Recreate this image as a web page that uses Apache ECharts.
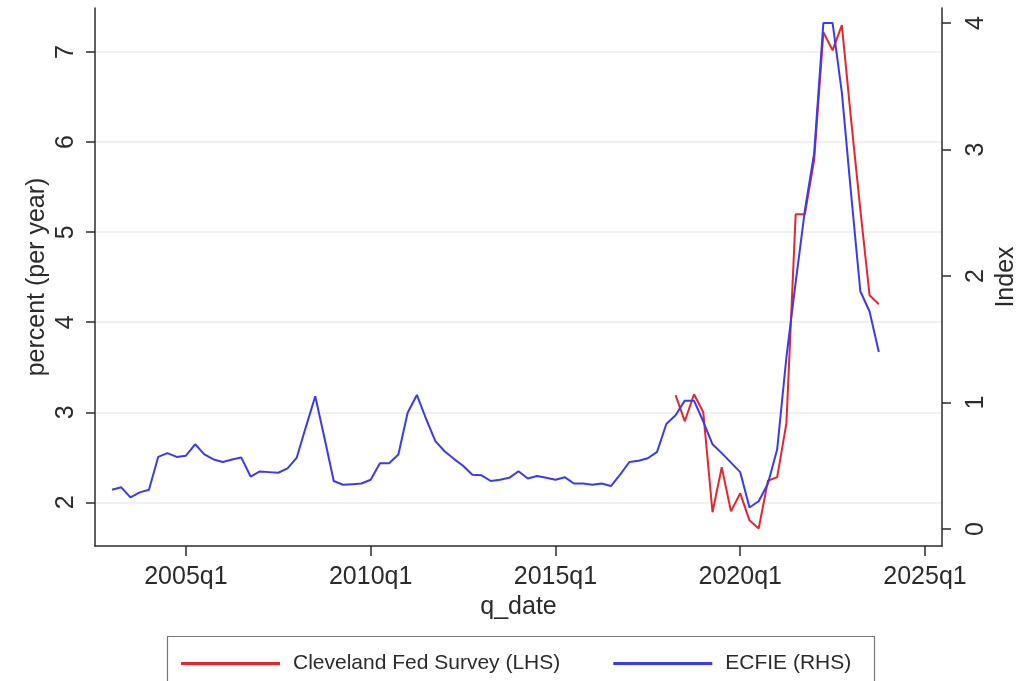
<!DOCTYPE html>
<html>
<head>
<meta charset="utf-8">
<title>Inflation expectations</title>
<script src="https://cdn.jsdelivr.net/npm/echarts@6/dist/echarts.min.js"></script>
<style>
  html, body { margin: 0; padding: 0; background: #ffffff; }
  #chart { width: 1020px; height: 681px; }
</style>
</head>
<body>
<div id="chart"></div>
<script>
// Quarterly sample, 2003q1 through 2023q4
const firstYear = 2003;
const lastYear = 2023;

// ECFIE index (right-hand scale), one value per quarter from 2003q1
const ecfie = [
  0.31, 0.33, 0.25, 0.29,
  0.31, 0.57, 0.60, 0.57,
  0.58, 0.67, 0.59, 0.55,
  0.53, 0.55, 0.565, 0.415,
  0.455, 0.45, 0.445, 0.48,
  0.565, 0.81, 1.05, 0.72,
  0.38, 0.35, 0.355, 0.36,
  0.39, 0.52, 0.52, 0.59,
  0.92, 1.06, 0.87, 0.695,
  0.615, 0.555, 0.50, 0.43,
  0.425, 0.38, 0.39, 0.405,
  0.457, 0.40, 0.42, 0.405,
  0.39, 0.41, 0.36, 0.36,
  0.35, 0.36, 0.34, 0.43,
  0.53, 0.54, 0.56, 0.61,
  0.83, 0.90, 1.015, 1.015,
  0.85, 0.67, 0.60, 0.525,
  0.45, 0.17, 0.22, 0.36,
  0.63, 1.36, 1.95, 2.52,
  2.97, 4.00, 4.00, 3.45,
  2.65, 1.88, 1.72, 1.40
];

// Cleveland Fed survey (percent per year, left-hand scale), from 2018q2
const clevelandStart = '2018q2';
const cleveland = [
  3.19, 2.90, 3.20,
  3.00, 1.89, 2.39, 1.90,
  2.10, 1.80, 1.71, 2.24,
  2.28, 2.88, 5.20, 5.20,
  5.80, 7.22, 7.02, 7.30,
  6.25, 5.25, 4.30, 4.20
];

// Axis ticks
const xTickLabels = ['2005q1', '2010q1', '2015q1', '2020q1', '2025q1'];
const leftTicks = [2, 3, 4, 5, 6, 7];
const rightTicks = [0, 1, 2, 3, 4];

const seriesNames = ['Cleveland Fed Survey (LHS)', 'ECFIE (RHS)'];

// Quarter labels ("2003q1", ...) and their position on a continuous time scale
const quarters = [];
for (let y = firstYear; y <= lastYear; y++) {
  for (let q = 1; q <= 4; q++) quarters.push(y + 'q' + q);
}
function qNum(label) {
  const [y, q] = label.split('q').map(Number);
  return y + (q - 1) / 4;
}
function qLabel(v) {
  const y = Math.floor(v + 1e-6);
  const q = Math.round((v - y) * 4) + 1;
  return y + 'q' + q;
}

const ecfieData = ecfie.map((v, i) => [qNum(quarters[i]), v]);
const cfStart = quarters.indexOf(clevelandStart);
const clevelandData = cleveland.map((v, i) => [qNum(quarters[cfStart + i]), v]);

const FONT = 'Liberation Sans, Arial, sans-serif';
const INK = '#2b2b2b';
const RED = '#e5262d';
const BLUE = '#3a3aef';

const chart = echarts.init(document.getElementById('chart'), null, { renderer: 'canvas' });

chart.setOption({
  animation: false,
  backgroundColor: '#ffffff',
  grid: { left: 95, right: 78, top: 8, bottom: 135, containLabel: false, outerBoundsMode: 'none' },
  xAxis: {
    type: 'value',
    min: 2002.54,
    max: 2025.46,
    name: 'q_date',
    nameLocation: 'middle',
    nameGap: 48,
    nameTextStyle: { fontFamily: FONT, fontSize: 25, color: INK },
    axisLine: { show: true, onZero: false, lineStyle: { color: INK, width: 1.5 } },
    axisTick: { show: true, length: 10, lineStyle: { color: INK, width: 1.5 },
      customValues: xTickLabels.map(qNum) },
    axisLabel: { show: true, margin: 19, fontFamily: FONT, fontSize: 25, color: INK,
      customValues: xTickLabels.map(qNum), formatter: v => qLabel(v) },
    splitLine: { show: false }
  },
  yAxis: [
    {
      type: 'value',
      position: 'left',
      min: 1.515,
      max: 7.49,
      name: 'percent (per year)',
      nameLocation: 'middle',
      nameGap: 45,
      nameRotate: 90,
      nameMoveOverlap: false,
      nameTextStyle: { fontFamily: FONT, fontSize: 25, color: INK },
      axisLine: { show: true, onZero: false, lineStyle: { color: INK, width: 1.5 } },
      axisTick: { show: true, length: 9, lineStyle: { color: INK, width: 1.5 },
        customValues: leftTicks },
      axisLabel: { show: true, rotate: 90, margin: 16, fontFamily: FONT, fontSize: 25, color: INK,
        customValues: leftTicks },
      splitLine: { show: true, lineStyle: { color: '#ececec', width: 1.5 } }
    },
    {
      type: 'value',
      position: 'right',
      min: -0.134,
      max: 4.119,
      name: 'Index',
      nameLocation: 'middle',
      nameGap: 52,
      nameRotate: 90,
      nameMoveOverlap: false,
      nameTextStyle: { fontFamily: FONT, fontSize: 25, color: INK },
      axisLine: { show: true, onZero: false, lineStyle: { color: INK, width: 1.5 } },
      axisTick: { show: true, length: 9, lineStyle: { color: INK, width: 1.5 },
        customValues: rightTicks },
      axisLabel: { show: true, rotate: 90, margin: 22, fontFamily: FONT, fontSize: 25, color: INK,
        customValues: rightTicks },
      splitLine: { show: false }
    }
  ],
  legend: {
    data: seriesNames,
    left: 176,
    top: 648,
    icon: 'rect',
    itemWidth: 99,
    itemHeight: 3,
    itemGap: 53,
    textStyle: { fontFamily: FONT, fontSize: 21, color: INK, padding: [0, 0, 0, 8] }
  },
  graphic: [
    {
      type: 'rect',
      left: 165,
      top: 634,
      shape: { width: 707, height: 70 },
      style: { fill: 'none', stroke: '#777777', lineWidth: 1.2 },
      silent: true,
      z: -1
    }
  ],
  series: [
    {
      name: seriesNames[0],
      type: 'line',
      yAxisIndex: 0,
      data: clevelandData,
      showSymbol: false,
      lineStyle: { color: RED, width: 2 },
      itemStyle: { color: RED }
    },
    {
      name: seriesNames[1],
      type: 'line',
      yAxisIndex: 1,
      data: ecfieData,
      showSymbol: false,
      lineStyle: { color: BLUE, width: 2 },
      itemStyle: { color: BLUE }
    }
  ]
});
</script>
</body>
</html>
